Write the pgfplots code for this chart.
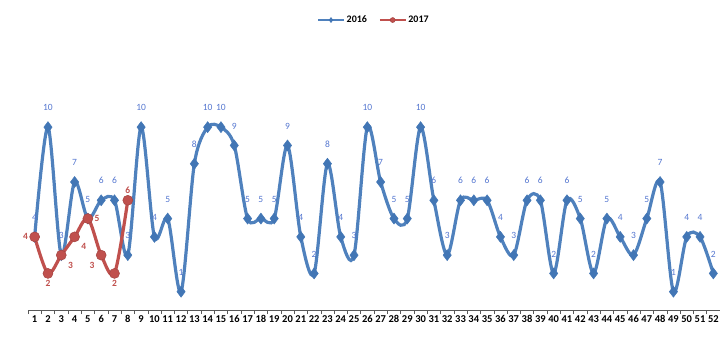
\documentclass[border=0pt]{standalone}
\usepackage{pgfplots}
\pgfplotsset{compat=1.18}
\usepackage{pgfplotstable}
\usepackage{fontspec}
\setmainfont{Carlito}
\definecolor{cblue}{HTML}{4F81BD}
\definecolor{cbluemk}{HTML}{4276B5}
\definecolor{cred}{HTML}{C0504D}
\definecolor{clblue}{HTML}{5577D0}
\pgfplotstableread{
x y
1 4
2 10
3 3
4 7
5 5
6 6
7 6
8 3
9 10
10 4
11 5
12 1
13 8
14 10
15 10
16 9
17 5
18 5
19 5
20 9
21 4
22 2
23 8
24 4
25 3
26 10
27 7
28 5
29 5
30 10
31 6
32 3
33 6
34 6
35 6
36 4
37 3
38 6
39 6
40 2
41 6
42 5
43 2
44 5
45 4
46 3
47 5
48 7
49 1
50 4
51 4
52 2
}\dataA
\pgfplotstableread{
x y
1 4
2 2
3 3
4 4
5 5
6 3
7 2
8 6
}\dataB
\begin{document}
\begin{tikzpicture}
\path[use as bounding box] (-28pt,-28pt) rectangle (692pt,310pt);
\begin{axis}[
  at={(0,0)}, anchor=south west,
  scale only axis, width=692pt, height=256pt,
  xmin=0.5, xmax=52.5, ymin=0, ymax=14,
  /pgf/number format/assume math mode=true,
  axis y line=none, axis x line*=bottom,
  x axis line style={gray!70!black, line width=0.6pt},
  xtick={1,...,52}, major tick length=0pt,
  minor xtick={0.5,1.5,...,52.5}, minor tick length=4pt,
  tick align=outside, tick style={gray!70!black, line width=0.5pt},
  xticklabel style={font=\fontsize{10.5}{11}\selectfont\bfseries, black, inner sep=1pt},
  xticklabel={\pgfmathprintnumber{\tick}},
  every tick label/.append style={yshift=-4pt},
  clip=false,
  legend style={at={(0.5,1.1)}, anchor=south, draw=none, fill=none,
    font=\fontsize{10}{11}\selectfont\bfseries, legend columns=2,
    /tikz/every even column/.append style={column sep=10pt}},
  legend image code/.code={\draw[#1, line width=1.8pt] (0cm,0cm) -- (0.9cm,0cm); \draw[#1, mark size=2.5pt] plot coordinates {(0.45cm,0cm)};},
]
\addplot[smooth, tension=0.5, cblue, line width=3.2pt,
  mark=diamond*, mark size=5.5pt, mark options={fill=cbluemk, draw=cbluemk, line width=0.5pt},
  nodes near coords, point meta=explicit,
  nodes near coords style={font=\fontsize{9.5}{10}\selectfont, text=clblue, anchor=south, yshift=15pt, inner sep=1pt}]
  table[x=x, y=y, meta=y] {\dataA};
\addlegendentry{2016}
\addplot[smooth, tension=0.5, cred, line width=3.2pt,
  mark=*, mark size=5pt, mark options={fill=cred, draw=cred!85!black, line width=0.5pt},
  visualization depends on={\coordindex \as \idx},
  nodes near coords, point meta=explicit,
  nodes near coords style={font=\fontsize{9.5}{10}\selectfont\bfseries, text=cred, inner sep=6.5pt},
  every node near coord/.append code={\pgfmathtruncatemacro\k{\idx}%
    \ifcase\k \pgfkeysalso{anchor=east}\or \pgfkeysalso{anchor=north}\or
    \pgfkeysalso{anchor=north west}\or \pgfkeysalso{anchor=north west}\or
    \pgfkeysalso{anchor=west}\or \pgfkeysalso{anchor=north east}\or
    \pgfkeysalso{anchor=north}\or \pgfkeysalso{anchor=south}\fi}]
  table[x=x, y=y, meta=y] {\dataB};
\addlegendentry{2017}
\end{axis}
\end{tikzpicture}
\end{document}
